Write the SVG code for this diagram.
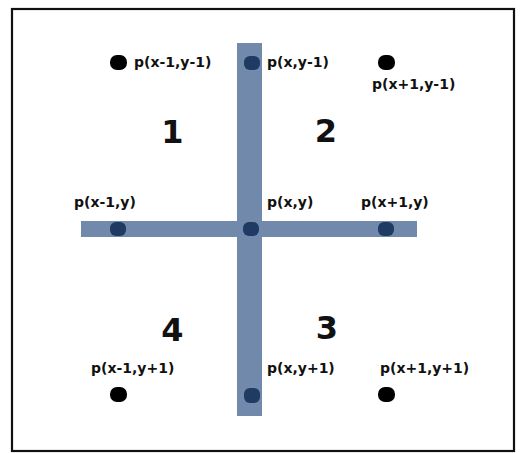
<svg xmlns="http://www.w3.org/2000/svg" width="522" height="453" viewBox="0 0 522 453">
<style>
.lbl{font-family:"DejaVu Sans","Verdana",sans-serif;font-weight:bold;font-size:14px;fill:#111}
.num{font-family:"DejaVu Sans","Verdana",sans-serif;font-weight:bold;font-size:32px;fill:#111;text-anchor:middle}
.bar{fill:#7189aa}
.bdot{fill:#1f3b63}
.kdot{fill:#000}
</style>
<rect x="0" y="0" width="522" height="453" fill="#fff"/>
<rect x="12" y="9" width="502" height="442" fill="none" stroke="#111" stroke-width="2.2"/>
<g id="connectors">
<rect class="bar" x="237" y="43" width="25" height="373"/>
<rect class="bar" x="81" y="221" width="336" height="16"/>
</g>
<g id="p-center"><rect class="bdot" x="243" y="222" width="16" height="14" rx="6"/><text class="lbl" x="267" y="207">p(x,y)</text></g>
<g id="p-left"><rect class="bdot" x="110" y="222" width="16" height="14" rx="6"/><text class="lbl" x="74" y="207">p(x-1,y)</text></g>
<g id="p-right"><rect class="bdot" x="378" y="222" width="16" height="14" rx="6"/><text class="lbl" x="361" y="207">p(x+1,y)</text></g>
<g id="p-top"><rect class="bdot" x="244" y="56" width="16" height="14" rx="6"/><text class="lbl" x="267" y="67">p(x,y-1)</text></g>
<g id="p-bottom"><rect class="bdot" x="244" y="388" width="16" height="15" rx="6"/><text class="lbl" x="267" y="373">p(x,y+1)</text></g>
<g id="p-tl"><rect class="kdot" x="110" y="55" width="17" height="15" rx="7"/><text class="lbl" x="134" y="67">p(x-1,y-1)</text></g>
<g id="p-tr"><rect class="kdot" x="378" y="55" width="17" height="15" rx="7"/><text class="lbl" x="372" y="89">p(x+1,y-1)</text></g>
<g id="p-bl"><rect class="kdot" x="110" y="387" width="17" height="15" rx="7"/><text class="lbl" x="91" y="373">p(x-1,y+1)</text></g>
<g id="p-br"><rect class="kdot" x="378" y="387" width="17" height="15" rx="7"/><text class="lbl" x="380" y="373">p(x+1,y+1)</text></g>
<g id="q1"><text class="num" x="172.5" y="143">1</text></g>
<g id="q2"><text class="num" x="326" y="142">2</text></g>
<g id="q3"><text class="num" x="327" y="339">3</text></g>
<g id="q4"><text class="num" x="172.5" y="341">4</text></g>
</svg>
